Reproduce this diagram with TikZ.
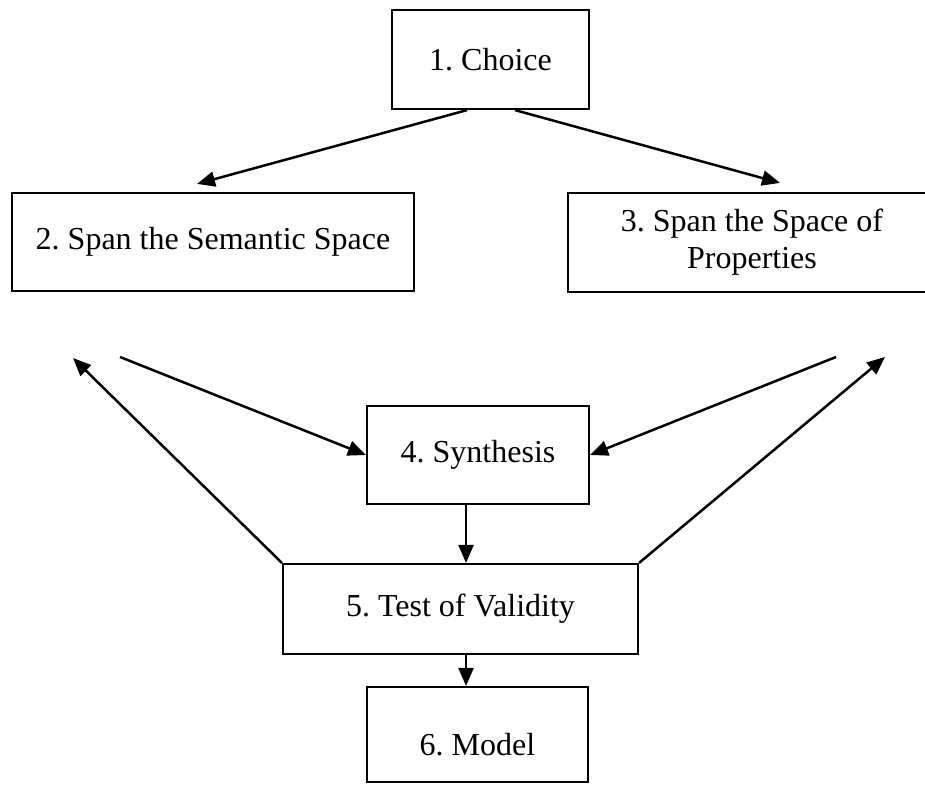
\documentclass[tikz,border=0pt]{standalone}
\usepackage{fontspec}
\setmainfont{Liberation Serif}
\usetikzlibrary{arrows.meta}
\frenchspacing
\begin{document}
\begin{tikzpicture}[x=1pt,y=-1pt,
  box/.style={draw, line width=2.2pt, inner sep=0pt, align=center,
              font=\fontsize{32}{37}\selectfont},
  link/.style={line width=2.5pt, -{Triangle[length=18pt,width=15pt]}}]
\useasboundingbox (0,0) rectangle (925,784);
\clip (0,0) rectangle (925,784);
\fill[white] (0,0) rectangle (925,784);

% the six stages
\node[box, minimum width=197pt, minimum height=99pt] (b1) at (490.5,59.5) {1. Choice};
\node[box, minimum width=402pt, minimum height=98pt] (b2) at (213,242) {2. Span the Semantic Space};
\node[box, minimum width=368pt, minimum height=99pt] (b3) at (752,242.5) {3. Span the Space of\\Properties};
\node[box, minimum width=222pt, minimum height=98pt] (b4) at (478,455) {4. Synthesis};
\node[box, minimum width=355pt, minimum height=90pt] (b5) at (460.5,609) {5. Test of Validity};
\node[box, minimum width=221pt, minimum height=95pt] (b6) at (477.5,734.5) {};
\node[font=\fontsize{32}{37}\selectfont, inner sep=0pt] (t6) at (477.5,745) {6. Model};

% free ends of the feedback connectors
\coordinate (l1) at (120,357);
\coordinate (l2) at (73,358);
\coordinate (r1) at (836,357);
\coordinate (r2) at (885,357);

% choice to both spanning steps
\draw[link] ([xshift=-23.5pt]b1.south) -- ([xshift=-16pt,yshift=8pt]b2.north);
\draw[link] ([xshift=24.5pt]b1.south) -- ([xshift=28pt,yshift=9pt]b3.north);

% into synthesis
\draw[link] (l1) -- (b4.west);
\draw[link] (r1) -- (b4.east);

% feedback from the test of validity
\draw[link] (b5.north west) -- (l2);
\draw[link] (b5.north east) -- (r2);

% down the chain
\draw[link] ([xshift=-12pt]b4.south) -- ([xshift=-12pt]b4.south |- b5.north);
\draw[link] ([xshift=-12pt]b4.south |- b5.south) -- ([xshift=-12pt]b4.south |- b6.north);
\end{tikzpicture}
\end{document}
